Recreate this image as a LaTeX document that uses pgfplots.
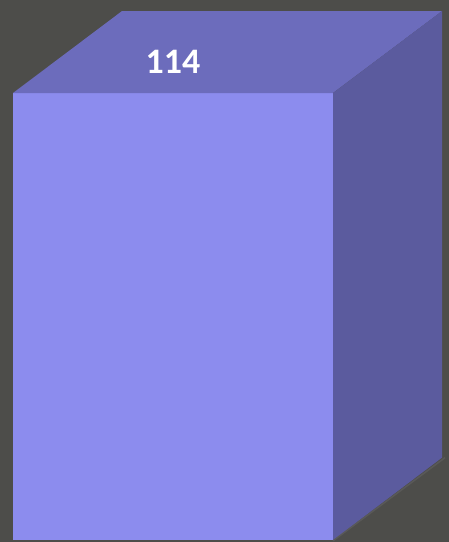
\documentclass[border=0pt]{standalone}
\usepackage{pgfplots}
\pgfplotsset{compat=1.18}
\usepackage{fontspec}
\setmainfont{Carlito}
\definecolor{bgcol}{HTML}{4D4D4A}
\definecolor{frontcol}{HTML}{8C8CEE}
\definecolor{topcol}{HTML}{6C6CBC}
\definecolor{sidecol}{HTML}{5B5B9E}
\begin{document}
\begin{tikzpicture}
\begin{axis}[
  scale only axis,
  width=449bp, height=542bp,
  xmin=0, xmax=449,
  ymin=-0.51, ymax=137.72,
  axis line style={draw=none},
  xtick=\empty, ytick=\empty,
  axis background/.style={fill=bgcol},
  clip=false,
]
% front face (the bar itself, value 114)
\addplot[ybar, bar width=320, bar shift=0pt, fill=frontcol, draw=none] coordinates {(173,114)};
% top face
\addplot[fill=topcol, draw=none] coordinates {(13,114) (333,114) (442,134.9) (122,134.9)} -- cycle;
% side face
\addplot[fill=sidecol, draw=none] coordinates {(333,114) (442,134.9) (442,21.0) (333,0)} -- cycle;
% shadow edge
\addplot[draw=black!60, line width=1.5pt, opacity=0.5] coordinates {(333,-0.2) (445,21.0)};
\node[text=white, font=\bfseries\fontsize{36}{36}\selectfont] at (axis cs:173,122.0) {114};
\end{axis}
\end{tikzpicture}
\end{document}
